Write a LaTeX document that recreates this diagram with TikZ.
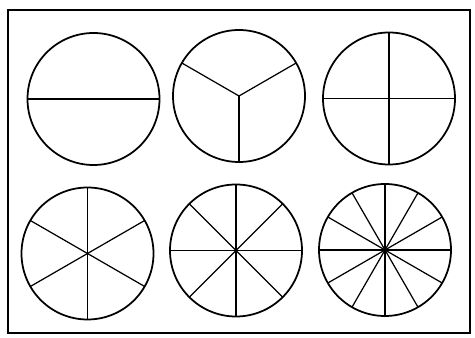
\documentclass[tikz,border=0pt]{standalone}
\usepackage{tikz}

\begin{document}
\begin{tikzpicture}
	\useasboundingbox (0,0) rectangle (9.5,6.76);
	\draw [line width=0.9pt] (0.16,0.1) rectangle (9.4,6.56);
	\begin{scope}[every node/.style={circle,draw,line width=1pt,minimum size=2.64cm,inner sep=0pt,outer sep=0pt}]
	\node (A) at (1.87,4.78) {};
	\node (B) at (4.78,4.84) {};
	\node (C) at (7.78,4.79) {};
	\node (D) at (1.75,1.69) {};
	\node (E) at (4.72,1.75) {};
	\node (F) at (7.70,1.76) {};
	\end{scope}
	\draw [line width=0.7pt] (A.180) -- (A.0);
	\foreach \a in {30,150,270}
		\draw [line width=0.7pt] (B.center) -- (B.\a);
	\foreach \a in {0,90,180,270}
		\draw [line width=0.7pt] (C.center) -- (C.\a);
	\foreach \a in {30,90,...,330}
		\draw [line width=0.7pt] (D.center) -- (D.\a);
	\foreach \a in {0,45,...,315}
		\draw [line width=0.7pt] (E.center) -- (E.\a);
	\foreach \a in {0,30,...,330}
		\draw [line width=0.7pt] (F.center) -- (F.\a);
\end{tikzpicture}
\end{document}
